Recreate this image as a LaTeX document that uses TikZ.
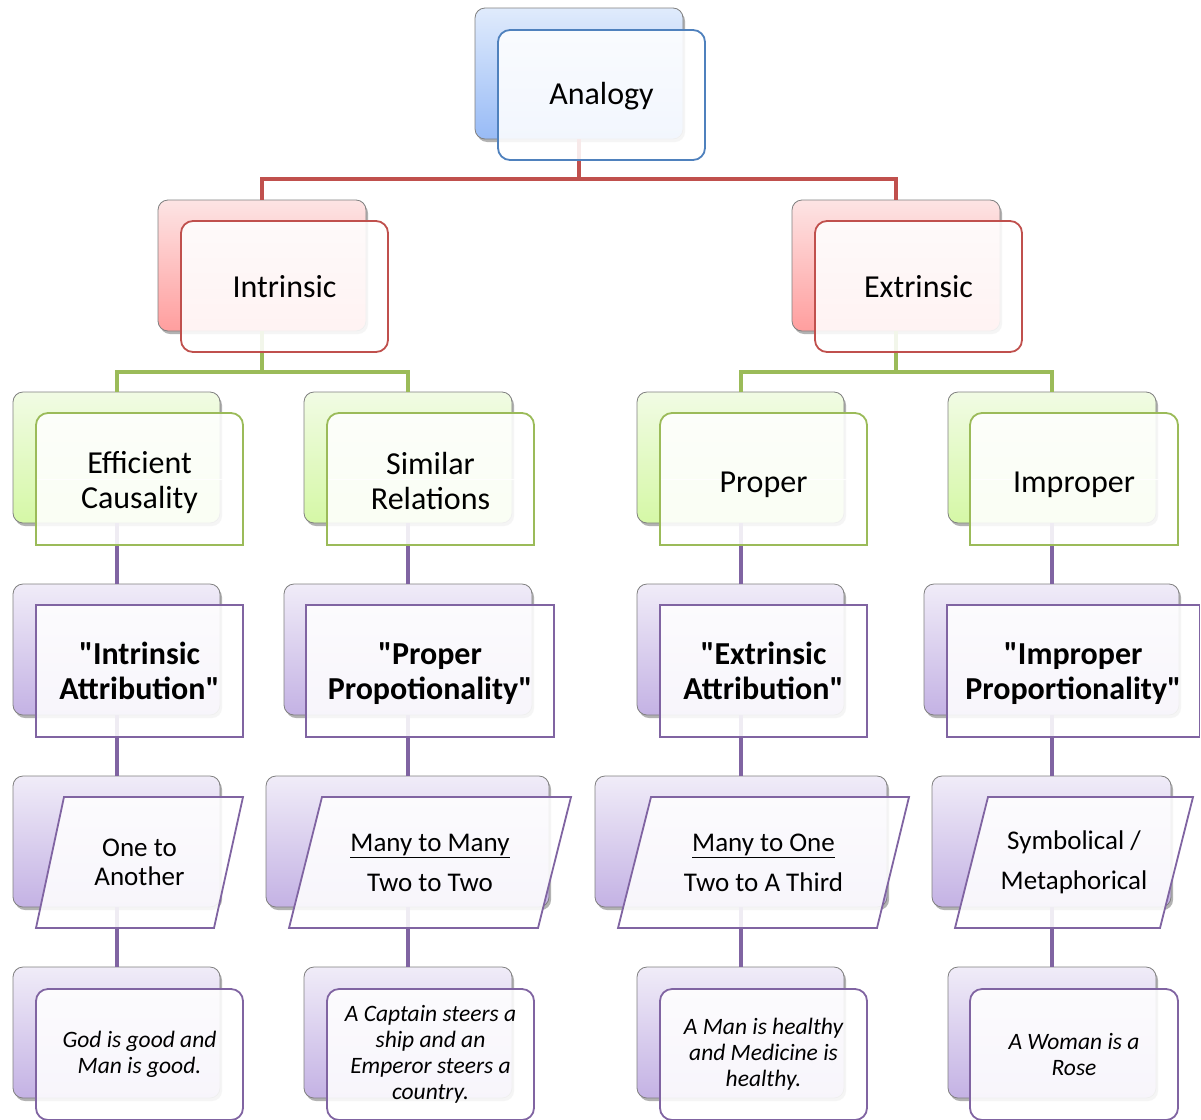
\documentclass[tikz,border=0pt]{standalone}
\usepackage{fontspec}
\setmainfont{Carlito}
\usetikzlibrary{fit,shadows}
\definecolor{bluetop}{HTML}{E0EBFC}\definecolor{bluebot}{HTML}{98BBF6}
\definecolor{redtop}{HTML}{FDE4E4}\definecolor{redbot}{HTML}{FF9E9E}
\definecolor{greentop}{HTML}{F1FBE4}\definecolor{greenbot}{HTML}{D5F8A6}
\definecolor{purtop}{HTML}{F0ECF8}\definecolor{purbot}{HTML}{C4B2E4}
\definecolor{bluel}{HTML}{4F81BD}\definecolor{redl}{HTML}{C0504D}
\definecolor{greenl}{HTML}{9BBB59}\definecolor{purl}{HTML}{8064A2}
\newcommand\qq{\textquotedbl}
\tikzset{
 backbox/.style={draw=black!50, line width=0.8pt, rounded corners=10pt, inner sep=0pt,
   drop shadow={shadow xshift=2pt, shadow yshift=-3pt, opacity=0.3, fill=black}},
 bblue/.style={backbox, top color=bluetop, bottom color=bluebot},
 bred/.style={backbox, top color=redtop, bottom color=redbot},
 bgreen/.style={backbox, top color=greentop, bottom color=greenbot},
 bpur/.style={backbox, top color=purtop, bottom color=purbot},
 frontbox/.style={fill=white, fill opacity=0.88, text opacity=1, line width=1.8pt, inner sep=0pt, align=center},
 conn/.style={line width=4pt},
 t30/.style={font=\fontsize{32}{35}\selectfont, align=center, inner sep=0pt, yshift=-4pt},
 t30b/.style={font=\fontsize{32}{35}\selectfont\bfseries, align=center, inner sep=0pt},
 t26/.style={font=\fontsize{27}{29}\selectfont, align=center, inner sep=0pt},
 t22/.style={font=\fontsize{23.5}{26}\selectfont\itshape, align=center, inner sep=0pt},
}
\newcommand\topround[5]{%
 \begin{scope}\clip ({#2-6},{#3-6}) rectangle ({#4+6},{(#3+#5)/2});
 \path[frontbox, draw=greenl, rounded corners=12pt] (#2,#3) rectangle (#4,#5);\end{scope}
 \begin{scope}\clip ({#2-6},{(#3+#5)/2}) rectangle ({#4+6},{#5+6});
 \path[frontbox, draw=greenl] (#2,#3) rectangle (#4,#5);\end{scope}
 \node[inner sep=0pt, fit={(#2,#3)(#4,#5)}] (#1) {};}
\begin{document}
\begin{tikzpicture}[x=1pt,y=-1pt]
\clip (0,0) rectangle (1201,1119);
\useasboundingbox (0,0) rectangle (1201,1119);
\fill[white] (0,0) rectangle (1201,1119);
% ---------- back boxes (nodes) ----------
\node[bblue, fit={(475,8)(683,139)}] (b1) {};
\node[bred, fit={(158,200)(366,331)}] (b21) {};
\node[bred, fit={(792,200)(1000,331)}] (b22) {};
\draw[conn, redl] (b1.south) -- (b1.south |- 0,179) -| (b21.north);
\draw[conn, redl] (b1.south |- 0,179) -| (b22.north);
\node[bgreen, fit={(13,392)(220,523)}] (b31) {};
\node[bgreen, fit={(304,392)(512,523)}] (b32) {};
\node[bgreen, fit={(637,392)(844,523)}] (b33) {};
\node[bgreen, fit={(948,392)(1156,523)}] (b34) {};
\draw[conn, greenl] (b21.south) -- (b21.south |- 0,372) -| (b31.north);
\draw[conn, greenl] (b21.south |- 0,372) -| (b32.north);
\draw[conn, greenl] (b22.south) -- (b22.south |- 0,372) -| (b33.north);
\draw[conn, greenl] (b22.south |- 0,372) -| (b34.north);
\node[bpur, fit={(13,584)(220,715)}] (b41) {};
\node[bpur, fit={(284,584)(532,715)}] (b42) {};
\node[bpur, fit={(637,584)(844,715)}] (b43) {};
\node[bpur, fit={(924,584)(1179,715)}] (b44) {};
\node[bpur, fit={(13,776)(220,907)}] (b51) {};
\node[bpur, fit={(266,776)(549,907)}] (b52) {};
\node[bpur, fit={(595,776)(887,907)}] (b53) {};
\node[bpur, fit={(932,776)(1171,907)}] (b54) {};
\node[bpur, fit={(13,967)(220,1098)}] (b61) {};
\node[bpur, fit={(304,967)(512,1098)}] (b62) {};
\node[bpur, fit={(637,967)(844,1098)}] (b63) {};
\node[bpur, fit={(948,967)(1156,1098)}] (b64) {};
\foreach \c in {1,2,3,4}{
  \draw[conn, purl] (b3\c.south) -- (b3\c.south |- b4\c.north);
  \draw[conn, purl] (b4\c.south) -- (b4\c.south |- b5\c.north);
  \draw[conn, purl] (b5\c.south) -- (b5\c.south |- b6\c.north);
}
% ---------- front boxes ----------
\node[frontbox, draw=bluel, rounded corners=12pt, fit={(498,30)(705,160)}] (f1) {};
\node[t30, yshift=3pt] (t1) at (f1) {Analogy};
\node[frontbox, draw=redl, rounded corners=12pt, fit={(181,221)(388,352)}] (f21) {};
\node[t30, yshift=4pt] (t21) at (f21) {Intrinsic};
\node[frontbox, draw=redl, rounded corners=12pt, fit={(815,221)(1022,352)}] (f22) {};
\node[t30, yshift=4pt] (t22) at (f22) {Extrinsic};
\topround{f31}{36}{413}{243}{545}
\node[t30] (t31) at (f31) {Efficient\\Causality};
\topround{f32}{327}{413}{534}{545}
\node[t30, yshift=2pt] (t32) at (f32) {Similar\\Relations};
\topround{f33}{660}{413}{867}{545}
\node[t30, yshift=-2pt] (t33) at (f33) {Proper};
\topround{f34}{970}{413}{1178}{545}
\node[t30, yshift=-2pt] (t34) at (f34) {Improper};
\node[frontbox, draw=purl, fit={(36,605)(243,737)}] (f41) {};
\node[t30b] (t41) at (f41) {\qq Intrinsic\\Attribution\qq};
\node[frontbox, draw=purl, fit={(306,605)(554,737)}] (f42) {};
\node[t30b, yshift=-3pt] (t42) at (f42) {\qq Proper\\Propotionality\qq};
\node[frontbox, draw=purl, fit={(660,605)(867,737)}] (f43) {};
\node[t30b] (t43) at (f43) {\qq Extrinsic\\Attribution\qq};
\node[frontbox, draw=purl, fit={(947,605)(1199.5,737)}] (f44) {};
\node[t30b, yshift=-3pt] (t44) at (f44) {\qq Improper\\Proportionality\qq};
\path[frontbox, draw=purl] (64,797) -- (243,797) -- (214,928) -- (36,928) -- cycle;
\node[t26] (t51) at (139.5,862.5) {One to\\Another};
\path[frontbox, draw=purl] (322,797) -- (571,797) -- (538,928) -- (289,928) -- cycle;
\node[t26] (t52) at (430,862.5) {\underline{Many to Many}\\[11pt]Two to Two};
\path[frontbox, draw=purl] (651,797) -- (909,797) -- (877,928) -- (618,928) -- cycle;
\node[t26] (t53) at (763.5,862.5) {\underline{Many to One}\\[11pt]Two to A Third};
\path[frontbox, draw=purl] (988,797) -- (1193,797) -- (1160,928) -- (955,928) -- cycle;
\node[t26] (t54) at (1074,862.5) {Symbolical /\\[11pt]Metaphorical};
\node[frontbox, draw=purl, rounded corners=12pt, fit={(36,989)(243,1120)}] (f61) {};
\node[t22] (t61) at (f61) {God is good and\\Man is good.};
\node[frontbox, draw=purl, rounded corners=12pt, fit={(327,989)(534,1120)}] (f62) {};
\node[t22] (t62) at (f62) {A Captain steers a\\ship and an\\Emperor steers a\\country.};
\node[frontbox, draw=purl, rounded corners=12pt, fit={(660,989)(867,1120)}] (f63) {};
\node[t22] (t63) at (f63) {A Man is healthy\\and Medicine is\\healthy.};
\node[frontbox, draw=purl, rounded corners=12pt, fit={(970,989)(1178,1120)}] (f64) {};
\node[t22] (t64) at (f64) {A Woman is a\\Rose};
\end{tikzpicture}
\end{document}
